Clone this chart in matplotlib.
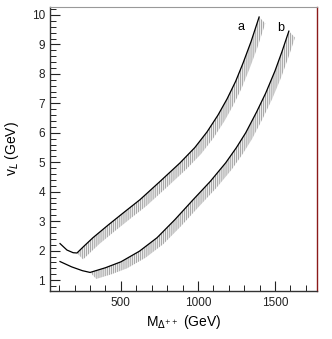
import matplotlib.pyplot as plt
import numpy as np

plt.rcParams['font.family'] = ['Liberation Sans', 'DejaVu Sans']
plt.rcParams['hatch.linewidth'] = 0.5

# curve a
m_a = [105, 150, 190, 215, 260, 319, 420, 520, 624, 750, 884, 980, 1059, 1130, 1189, 1245, 1293, 1345, 1397]
v_a = [2.24, 2.02, 1.93, 1.92, 2.15, 2.44, 2.88, 3.30, 3.73, 4.33, 4.98, 5.50, 6.03, 6.60, 7.15, 7.75, 8.37, 9.10, 9.93]
# curve b
m_b = [105, 180, 250, 300, 400, 500, 620, 735, 850, 969, 1080, 1180, 1250, 1310, 1380, 1440, 1500, 1545, 1590]
v_b = [1.63, 1.45, 1.32, 1.26, 1.42, 1.62, 1.98, 2.44, 3.05, 3.73, 4.35, 4.98, 5.50, 6.00, 6.70, 7.35, 8.10, 8.75, 9.45]

fig = plt.figure(figsize=(3.32, 3.39), dpi=100)
ax = fig.add_axes([0.1506, 0.1416, 0.8044, 0.8378])

for m, v, imin in [(m_a, v_a, 3), (m_b, v_b, 3)]:
    m = np.array(m, float)
    v = np.array(v, float)
    # hatched band below / right of the curve, from the minimum onwards
    mm, vv = m[imin:], v[imin:]
    xs = np.concatenate([mm, (mm + 40)[::-1]])
    ys = np.concatenate([vv, (vv - 0.22)[::-1]])
    ax.fill(xs, ys, facecolor='#ececec', edgecolor='#8c8c8c', hatch='||||||||', lw=0)
    ax.plot(m, v, color='black', lw=0.9)

ax.text(1280, 9.6, 'a', fontsize=9, ha='center', va='center')
ax.text(1540, 9.57, 'b', fontsize=9, ha='center', va='center')

ax.set_xlim(40, 1773)
ax.set_ylim(0.63, 10.27)
ax.set_xticks([500, 1000, 1500])
ax.set_xticks(np.arange(100, 1800, 100), minor=True)
ax.set_yticks(range(1, 11))
ax.set_yticks(np.arange(0.8, 10.3, 0.2), minor=True)
ax.tick_params(direction='in', length=7, width=0.8, labelsize=8.5, colors='#222222')
ax.tick_params(which='minor', direction='in', length=4, width=0.6)
ax.tick_params(axis='x', pad=4)

for s in ['left', 'bottom']:
    ax.spines[s].set_color('#333333')
    ax.spines[s].set_linewidth(1.0)
ax.spines['top'].set_color('#999999')
ax.spines['right'].set_color('#8b1a1a')
ax.spines['right'].set_linewidth(1.0)

ax.set_xlabel(r'M$_{\Delta^{++}}$ (GeV)', fontsize=10, labelpad=3)
ax.set_ylabel(r'v$_L$ (GeV)', fontsize=10, labelpad=8)

fig.savefig('out.png', dpi=100)
